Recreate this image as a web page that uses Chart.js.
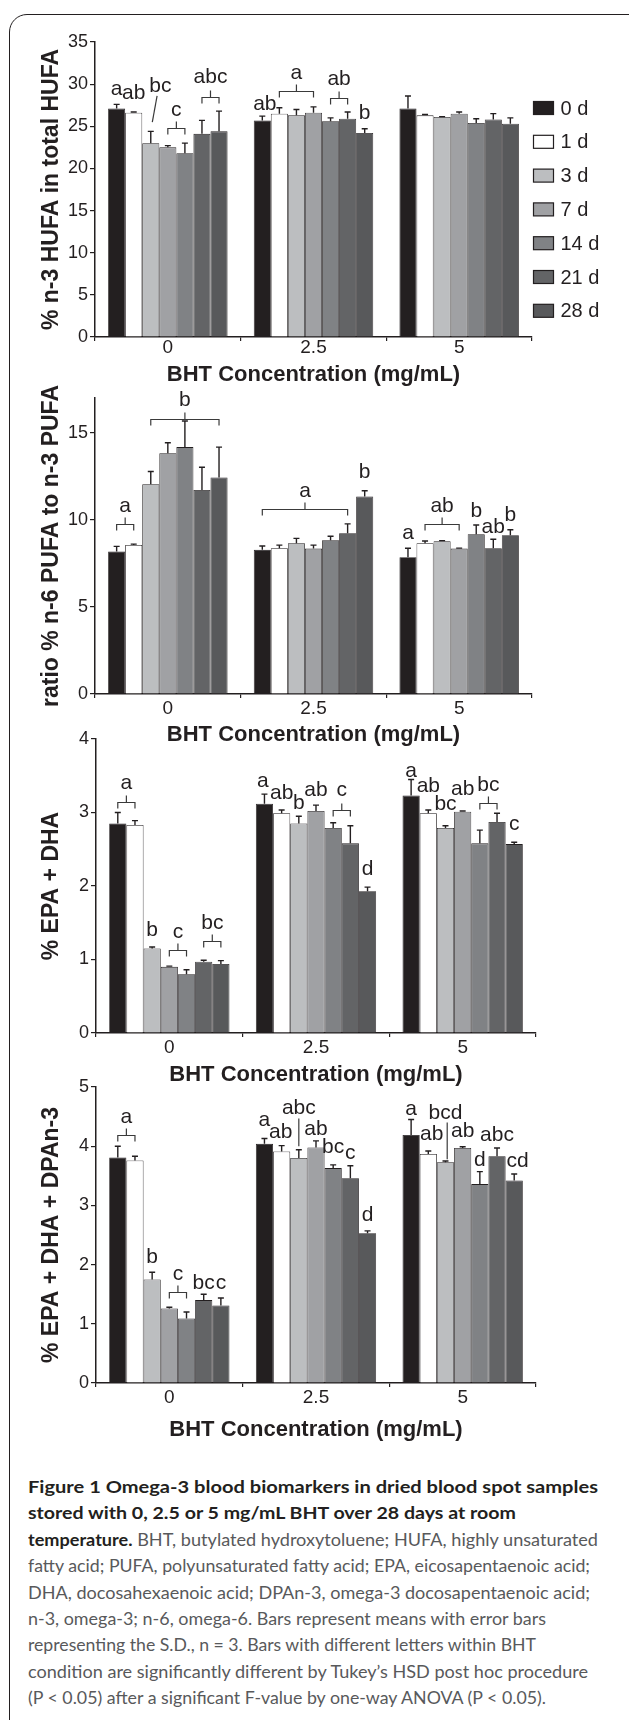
<!DOCTYPE html>
<html>
<head>
<meta charset="utf-8">
<script src="https://cdn.jsdelivr.net/npm/chart.js@4.4.1/dist/chart.umd.min.js"></script>
<style>
  html, body { margin: 0; padding: 0; background: #fff; }
  body { width: 629px; height: 1720px; overflow: hidden; position: relative; }
  .frame { position: absolute; left: 9px; top: 14px; width: 700px; height: 1800px;
           border: 1.6px solid #231f20; border-radius: 18px; }
  .panel { position: absolute; left: 0; width: 629px; }
  #cap { position: absolute; left: 28px; top: 1474px; font-family: Lato, "Noto Sans", sans-serif;
         font-size: 17px; line-height: 26.4px; color: #58595b; }
  #cap .ln { white-space: nowrap; width: max-content; transform-origin: 0 0; }
  #cap b { color: #231f20; font-weight: 700; }
</style>
</head>
<body>
<div class="frame"></div>
<div id="charts"></div>
<div id="cap">
  <div class="ln" data-w="570"><b>Figure 1 Omega-3 blood biomarkers in dried blood spot samples</b></div>
  <div class="ln" data-w="488"><b>stored with 0, 2.5 or 5 mg/mL BHT over 28 days at room</b></div>
  <div class="ln" data-w="570"><b>temperature.</b> BHT, butylated hydroxytoluene; HUFA, highly unsaturated</div>
  <div class="ln" data-w="562">fatty acid; PUFA, polyunsaturated fatty acid; EPA, eicosapentaenoic acid;</div>
  <div class="ln" data-w="562">DHA, docosahexaenoic acid; DPAn-3, omega-3 docosapentaenoic acid;</div>
  <div class="ln" data-w="518">n-3, omega-3; n-6, omega-6. Bars represent means with error bars</div>
  <div class="ln" data-w="508">representing the S.D., n = 3. Bars with different letters within BHT</div>
  <div class="ln" data-w="560">condition are significantly different by Tukey’s HSD post hoc procedure</div>
  <div class="ln" data-w="518">(P &lt; 0.05) after a significant F-value by one-way ANOVA (P &lt; 0.05).</div>
</div>
<script>
// categories and series
const bht = ['0', '2.5', '5'];
const days = ['0 d', '1 d', '3 d', '7 d', '14 d', '21 d', '28 d'];
const dayColors = ['#231f20', '#ffffff', '#bcbec0', '#a0a1a4', '#808285', '#636466', '#58595b'];

// one row per BHT level, one column per storage day
const hufaMean = [
  [27.1, 26.6, 23.0, 22.5, 21.8, 24.1, 24.4],
  [25.7, 26.5, 26.3, 26.6, 25.6, 25.9, 24.2],
  [27.1, 26.3, 26.1, 26.5, 25.4, 25.8, 25.3]
];
const hufaSD = [
  [0.5, 0.1, 1.4, 0.2, 1.2, 1.6, 2.4],
  [0.5, 0.7, 0.7, 0.7, 0.4, 0.8, 0.5],
  [1.5, 0.1, 0.05, 0.2, 0.5, 0.7, 0.7]
];
const ratioMean = [
  [8.18, 8.56, 12.05, 13.83, 14.18, 11.72, 12.43],
  [8.28, 8.37, 8.66, 8.35, 8.83, 9.23, 11.34],
  [7.86, 8.66, 8.77, 8.35, 9.18, 8.37, 9.12]
];
const ratioSD = [
  [0.3, 0.05, 0.73, 0.6, 1.5, 1.3, 1.75],
  [0.22, 0.18, 0.28, 0.2, 0.23, 0.54, 0.33],
  [0.51, 0.13, 0.04, 0.03, 0.53, 0.52, 0.31]
];
const epaDhaMean = [
  [2.85, 2.83, 1.15, 0.90, 0.80, 0.97, 0.94],
  [3.12, 2.99, 2.85, 3.02, 2.79, 2.58, 1.93],
  [3.23, 2.99, 2.79, 3.01, 2.58, 2.87, 2.57]
];
const epaDhaSD = [
  [0.15, 0.06, 0.02, 0.01, 0.06, 0.02, 0.045],
  [0.13, 0.045, 0.1, 0.08, 0.07, 0.24, 0.055],
  [0.22, 0.045, 0.03, 0.01, 0.18, 0.12, 0.025]
];
const n3Mean = [
  [3.81, 3.76, 1.75, 1.26, 1.09, 1.40, 1.31],
  [4.04, 3.91, 3.80, 3.98, 3.63, 3.46, 2.53],
  [4.19, 3.87, 3.73, 3.97, 3.36, 3.83, 3.42]
];
const n3SD = [
  [0.19, 0.07, 0.12, 0.02, 0.11, 0.1, 0.125],
  [0.09, 0.1, 0.14, 0.11, 0.055, 0.21, 0.04],
  [0.26, 0.05, 0.02, 0.02, 0.21, 0.14, 0.11]
];

// Tukey letters: g = BHT group, b = bar slot, v = value where the text sits
// br = [fromBar, toBar, value of bracket], ln = pointer line [b1, v1, b2, v2]
const hufaLetters = [
  {t: 'a', g: 0, b: 0, v: 29.4},
  {t: 'ab', g: 0, b: 1, v: 28.9},
  {t: 'bc', g: 0, b: 2.56, v: 29.8, ln: [2.37, 28.6, 2.09, 25.5]},
  {t: 'c', g: 0, b: 3.5, v: 26.9, br: [3, 4, 24.8]},
  {t: 'abc', g: 0, b: 5.5, v: 30.8, br: [5, 6, 28.5]},
  {t: 'ab', g: 1, b: 0.15, v: 27.6},
  {t: 'a', g: 1, b: 2, v: 31.3, br: [1, 3, 29.2]},
  {t: 'ab', g: 1, b: 4.5, v: 30.6, br: [4, 5, 28.35]},
  {t: 'b', g: 1, b: 6, v: 26.5}
];
const ratioLetters = [
  {t: 'a', g: 0, b: 0.5, v: 10.76, br: [0, 1, 9.77]},
  {t: 'b', g: 0, b: 4, v: 16.9, br: [2, 6, 15.78]},
  {t: 'a', g: 1, b: 2.5, v: 11.67, br: [0, 5, 10.6]},
  {t: 'b', g: 1, b: 6, v: 12.72},
  {t: 'a', g: 2, b: 0, v: 9.23},
  {t: 'ab', g: 2, b: 2, v: 10.76, br: [1, 3, 9.75]},
  {t: 'b', g: 2, b: 4, v: 10.48},
  {t: 'ab', g: 2, b: 5, v: 9.6},
  {t: 'b', g: 2, b: 6, v: 10.29}
];
const epaDhaLetters = [
  {t: 'a', g: 0, b: 0.5, v: 3.397, br: [0, 1, 3.147]},
  {t: 'b', g: 0, b: 2, v: 1.40},
  {t: 'c', g: 0, b: 3.5, v: 1.378, br: [3, 4, 1.13]},
  {t: 'bc', g: 0, b: 5.5, v: 1.5, br: [5, 6, 1.256]},
  {t: 'a', g: 1, b: -0.1, v: 3.42},
  {t: 'ab', g: 1, b: 1, v: 3.26},
  {t: 'b', g: 1, b: 2, v: 3.125},
  {t: 'ab', g: 1, b: 3, v: 3.306},
  {t: 'c', g: 1, b: 4.5, v: 3.297, br: [4, 5, 3.04]},
  {t: 'd', g: 1, b: 6, v: 2.227},
  {t: 'a', g: 2, b: 0, v: 3.565},
  {t: 'ab', g: 2, b: 1, v: 3.36},
  {t: 'bc', g: 2, b: 2, v: 3.116},
  {t: 'ab', g: 2, b: 3, v: 3.315},
  {t: 'bc', g: 2, b: 4.5, v: 3.374, br: [4, 5, 3.125]},
  {t: 'c', g: 2, b: 6, v: 2.84}
];
const n3Letters = [
  {t: 'a', g: 0, b: 0.5, v: 4.49, br: [0, 1, 4.19]},
  {t: 'b', g: 0, b: 2, v: 2.12},
  {t: 'c', g: 0, b: 3.5, v: 1.84, br: [3, 4, 1.53]},
  {t: 'bc', g: 0, b: 5, v: 1.68},
  {t: 'c', g: 0, b: 6, v: 1.68},
  {t: 'a', g: 1, b: 0, v: 4.44},
  {t: 'ab', g: 1, b: 0.95, v: 4.23},
  {t: 'abc', g: 1, b: 2, v: 4.64, ln: [2, 4.47, 2, 4.0]},
  {t: 'ab', g: 1, b: 3, v: 4.29},
  {t: 'bc', g: 1, b: 4, v: 3.98},
  {t: 'c', g: 1, b: 5, v: 3.88},
  {t: 'd', g: 1, b: 6, v: 2.83},
  {t: 'a', g: 2, b: 0, v: 4.63},
  {t: 'ab', g: 2, b: 1.2, v: 4.2},
  {t: 'bcd', g: 2, b: 2, v: 4.56, ln: [2.1, 4.40, 2.1, 3.78]},
  {t: 'ab', g: 2, b: 3, v: 4.25},
  {t: 'd', g: 2, b: 4, v: 3.77},
  {t: 'abc', g: 2, b: 5, v: 4.19},
  {t: 'cd', g: 2, b: 6.2, v: 3.755}
];

const ink = '#231f20';
const FONT = '"Liberation Sans", Arial, Helvetica, sans-serif';
Chart.defaults.font.family = FONT;
Chart.defaults.color = ink;

const panels = [
  {mean: hufaMean, sd: hufaSD, notes: hufaLetters, max: 35, step: 5, title: '% n-3 HUFA in total HUFA',
   top: 42, bottom: 337, right: 532, axisX: 95, xH: 51, labelPad: -3, legend: true},
  {mean: ratioMean, sd: ratioSD, notes: ratioLetters, max: 17, step: 5, title: 'ratio % n-6 PUFA to n-3 PUFA',
   top: 398, bottom: 694, right: 532, axisX: 95, xH: 54, labelPad: 1},
  {mean: epaDhaMean, sd: epaDhaSD, notes: epaDhaLetters, max: 4, step: 1, title: '% EPA + DHA',
   top: 739, bottom: 1033, right: 536, axisX: 96, xH: 55, labelPad: 1},
  {mean: n3Mean, sd: n3SD, notes: n3Letters, max: 5, step: 1, title: '% EPA + DHA + DPAn-3',
   top: 1087, bottom: 1383, right: 536, axisX: 96, xH: 60, labelPad: 1}
];

const PADL = 38;

function makeChart(cfg) {
  const wrap = document.createElement('div');
  wrap.className = 'panel';
  const top = cfg.top - 30;
  wrap.style.top = top + 'px';
  wrap.style.height = (cfg.bottom + cfg.xH + 5 - top) + 'px';
  const canvas = document.createElement('canvas');
  wrap.appendChild(canvas);
  document.getElementById('charts').appendChild(wrap);

  // error bars (upward whisker with cap), letters and brackets
  const extras = {
    id: 'extras',
    afterDatasetsDraw(chart) {
      const {ctx} = chart;
      const y = chart.scales.y;
      ctx.save();
      ctx.strokeStyle = ink;
      ctx.lineWidth = 1.4;
      chart.data.datasets.forEach((ds, i) => {
        chart.getDatasetMeta(i).data.forEach((bar, j) => {
          const yt = y.getPixelForValue(ds.data[j] + ds.sd[j]);
          ctx.beginPath();
          ctx.moveTo(bar.x, bar.y);
          ctx.lineTo(bar.x, yt);
          ctx.moveTo(bar.x - 3, yt);
          ctx.lineTo(bar.x + 3, yt);
          ctx.stroke();
        });
      });

      const first = chart.getDatasetMeta(0).data;
      const px = (g, b) => first[g].x + b * first[g].width;
      ctx.lineWidth = 1.2;
      ctx.strokeStyle = '#3a3a3a';
      ctx.fillStyle = ink;
      ctx.font = '21px ' + FONT;
      ctx.textAlign = 'center';
      ctx.textBaseline = 'middle';
      cfg.notes.forEach(n => {
        if (n.br) {
          const x1 = px(n.g, n.br[0]), x2 = px(n.g, n.br[1]);
          const yy = Math.round(y.getPixelForValue(n.br[2])) + 0.5;
          const xm = (x1 + x2) / 2;
          ctx.beginPath();
          ctx.moveTo(x1, yy + 6);
          ctx.lineTo(x1, yy);
          ctx.lineTo(x2, yy);
          ctx.lineTo(x2, yy + 6);
          ctx.moveTo(xm, yy);
          ctx.lineTo(xm, yy - 7);
          ctx.stroke();
        }
        if (n.ln) {
          ctx.beginPath();
          ctx.moveTo(px(n.g, n.ln[0]), y.getPixelForValue(n.ln[1]));
          ctx.lineTo(px(n.g, n.ln[2]), y.getPixelForValue(n.ln[3]));
          ctx.stroke();
        }
        ctx.fillText(n.t, px(n.g, n.b), y.getPixelForValue(n.v));
      });
      ctx.restore();
    },
    afterDraw(chart) {
      if (!cfg.legend) return;
      const {ctx, chartArea} = chart;
      ctx.save();
      ctx.font = '20px ' + FONT;
      ctx.textBaseline = 'middle';
      ctx.textAlign = 'left';
      ctx.lineWidth = 1.2;
      ctx.strokeStyle = ink;
      chart.data.datasets.forEach((ds, i) => {
        const cy = chartArea.top + 66 + i * 33.8;
        const x = chartArea.right + 1.5;
        ctx.fillStyle = ds.backgroundColor;
        ctx.fillRect(x, cy - 6.5, 20, 13);
        ctx.strokeRect(x, cy - 6.5, 20, 13);
        ctx.fillStyle = ink;
        ctx.fillText(ds.label, x + 27, cy + 1);
      });
      ctx.restore();
    }
  };

  new Chart(canvas, {
    type: 'bar',
    data: {
      labels: bht,
      datasets: days.map((d, i) => ({
        label: d,
        data: cfg.mean.map(row => row[i]),
        sd: cfg.sd.map(row => row[i]),
        backgroundColor: dayColors[i],
        borderColor: ink,
        borderWidth: 0.8,
        categoryPercentage: 0.82,
        barPercentage: 1
      }))
    },
    options: {
      responsive: true,
      maintainAspectRatio: false,
      animation: false,
      layout: {padding: {top: 30, left: PADL, right: 629 - cfg.right, bottom: 5}},
      plugins: {legend: {display: false}, tooltip: {enabled: false}},
      scales: {
        x: {
          grid: {offset: true, drawOnChartArea: false, tickLength: 4, color: ink, lineWidth: 1.2},
          border: {color: ink, width: 1.5},
          ticks: {color: ink, font: {size: 19, lineHeight: 1}, padding: cfg.labelPad},
          title: {display: true, text: 'BHT Concentration (mg/mL)', color: ink,
                  font: {size: 22, weight: 'bold'}, padding: 0},
          afterFit: s => { s.height = cfg.xH; }
        },
        y: {
          min: 0,
          max: cfg.max,
          grid: {drawOnChartArea: false, tickLength: 5, color: ink, lineWidth: 1.2},
          border: {color: ink, width: 1.5},
          ticks: {stepSize: cfg.step, color: ink, font: {size: 18}, padding: 2},
          afterBuildTicks: s => { s.ticks = s.ticks.filter(t => t.value % cfg.step === 0); },
          title: {display: true, text: cfg.title, color: ink, font: {size: 23, weight: 'bold'}, padding: 0},
          afterFit: s => { s.width = cfg.axisX - PADL; }
        }
      }
    },
    plugins: [extras]
  });
}

panels.forEach(makeChart);

// fit each caption line to its measured width
function fitCaption() {
  document.querySelectorAll('#cap .ln').forEach(el => {
    el.style.transform = 'none';
    const w = el.getBoundingClientRect().width;
    el.style.transform = 'scaleX(' + (parseFloat(el.dataset.w) / w) + ')';
  });
}
fitCaption();
if (document.fonts) document.fonts.ready.then(fitCaption);
</script>
</body>
</html>
